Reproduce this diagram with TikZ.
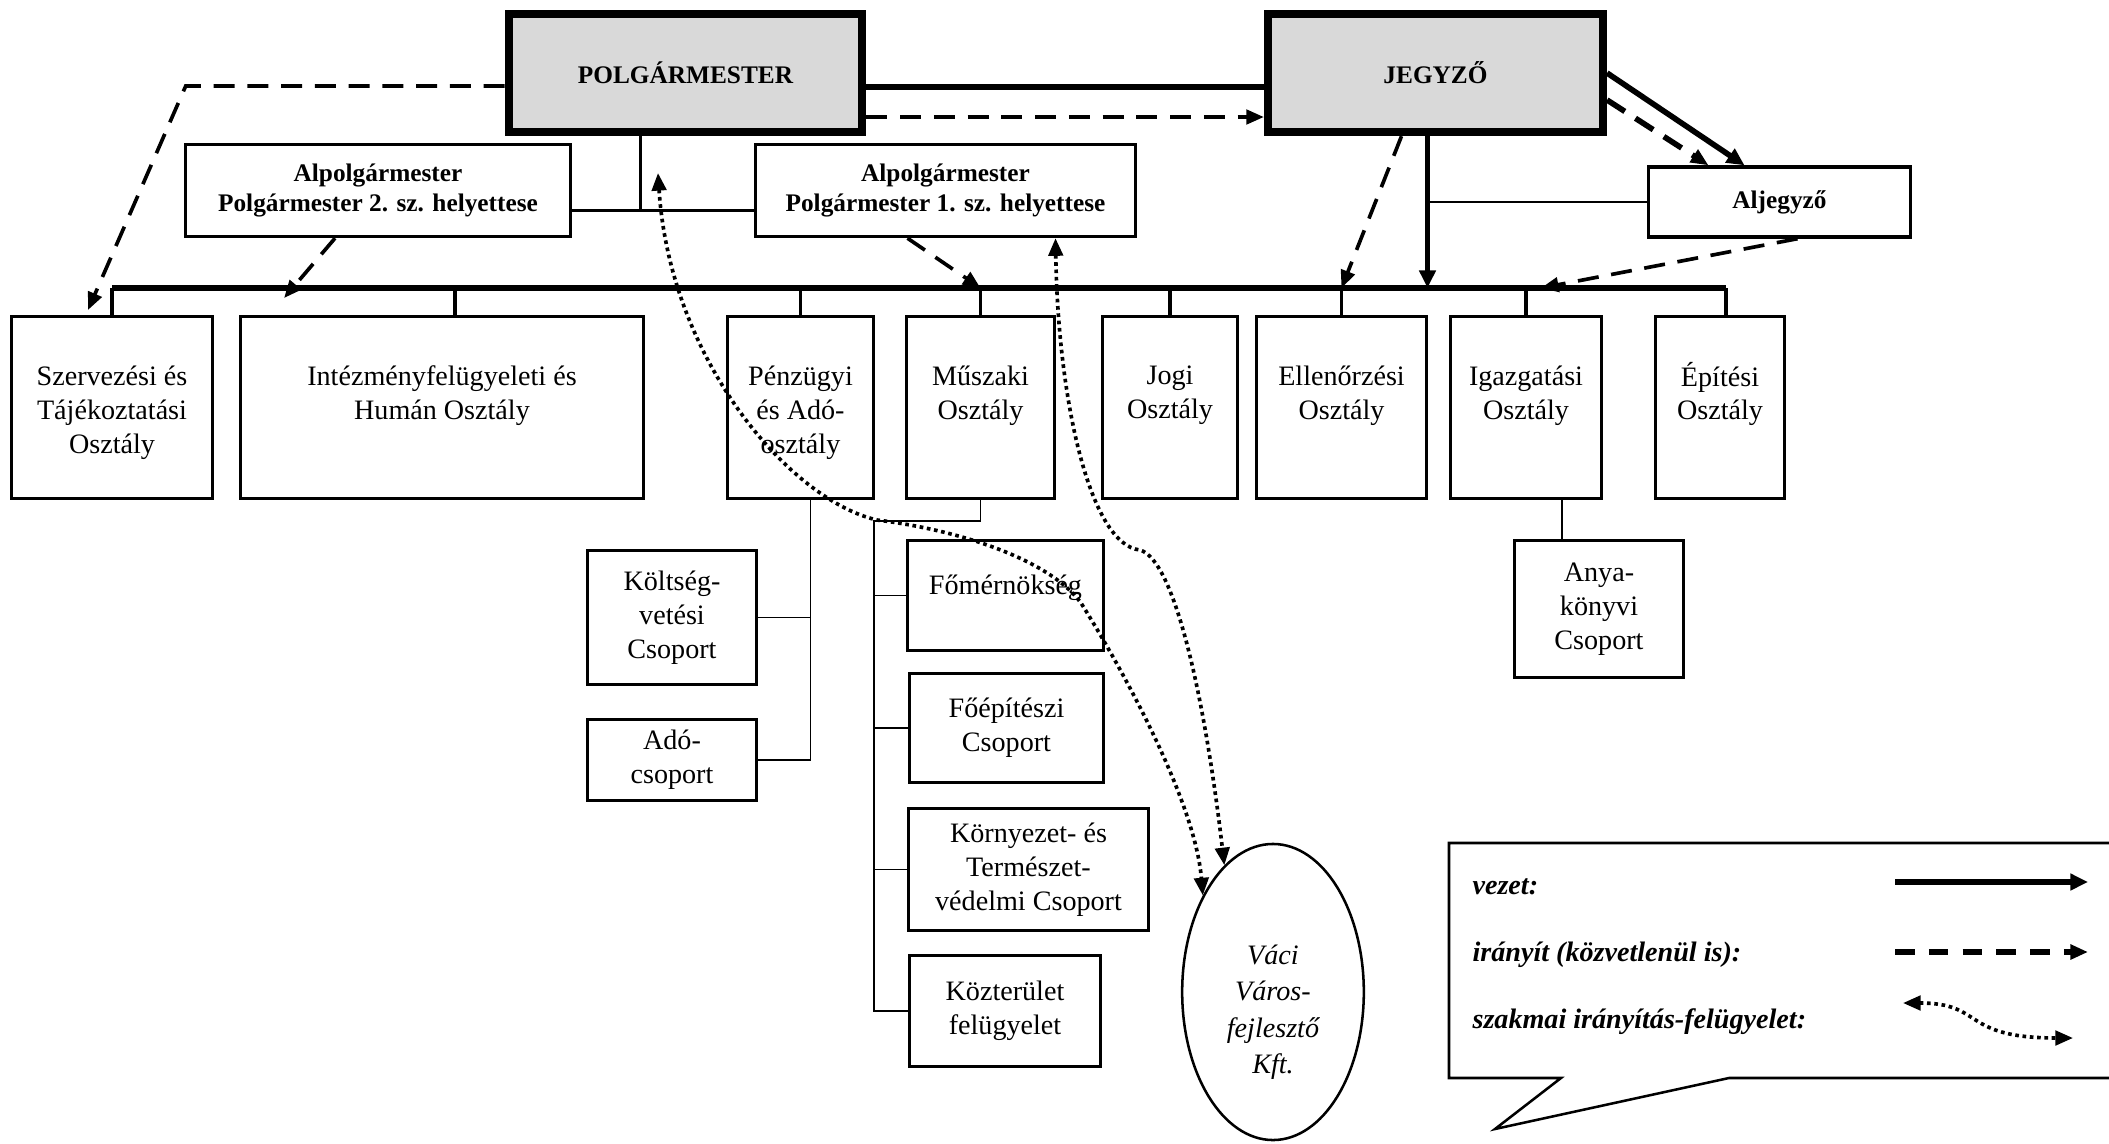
\documentclass[tikz,border=0pt]{standalone}
\usepackage{fontspec}
\setmainfont{Liberation Serif}
\usepackage{tikz}
\usetikzlibrary{shapes.geometric, arrows.meta, positioning, calc}

\begin{document}
\begin{tikzpicture}[
    x=0.0125cm, y=-0.0125cm,
    head/.style={rectangle, draw, line width=2.8pt, fill=black!15, minimum height=1.48cm, font=\small\bfseries},
    deputy/.style={rectangle, draw, line width=1.2pt, align=center, minimum height=1.15cm, font=\small\bfseries},
    dept/.style={rectangle, draw, line width=0.9pt, minimum height=2.28cm},
    depttext/.style={align=center, inner sep=0pt},
    group/.style={rectangle, draw, line width=0.9pt, align=center},
    tree/.style={line width=0.7pt},
    drop/.style={line width=1.2pt},
    bus/.style={line width=1.8pt},
    lead/.style={line width=2pt, -{Triangle[length=2.2mm, width=2mm]}},
    direct/.style={line width=1.3pt, dash pattern=on 7.5pt off 4.5pt, -{Triangle[length=2.2mm, width=1.8mm]}},
    expert/.style={line width=1.3pt, dash pattern=on 1.3pt off 1.3pt, {Triangle[length=2.2mm, width=1.8mm]}-{Triangle[length=2.2mm, width=1.8mm]}},
    legtext/.style={anchor=west, inner sep=0pt, font=\bfseries\itshape}
]
\useasboundingbox (0,0) rectangle (2109,1143);

% vezetes
\node[head, minimum width=4.42cm] (polg) at (685.5,73) {POLGÁRMESTER};
\node[head, minimum width=4.19cm] (jegyzo) at (1435.5,73) {JEGYZŐ};
\node[deputy, minimum width=4.81cm] (alp2) at (378,190.5) {Alpolgármester\\Polgármester 2. sz. helyettese};
\node[deputy, minimum width=4.75cm] (alp1) at (945.5,190.5) {Alpolgármester\\Polgármester 1. sz. helyettese};
\node[deputy, minimum width=3.28cm, minimum height=0.875cm] (aljegyzo) at (1779.5,202) {Aljegyző};

% osztalyok
\node[dept, minimum width=2.51cm] (szerv) at (112,407.5) {};
\node[dept, minimum width=5.04cm] (intezmeny) at (442,407.5) {};
\node[dept, minimum width=1.83cm] (penzugy) at (800.5,407.5) {};
\node[dept, minimum width=1.85cm] (muszaki) at (980.5,407.5) {};
\node[dept, minimum width=1.69cm] (jogi) at (1170,407.5) {};
\node[dept, minimum width=2.13cm] (ellenorzes) at (1341.5,407.5) {};
\node[dept, minimum width=1.89cm] (igazgatas) at (1526,407.5) {};
\node[dept, minimum width=1.61cm] (epites) at (1720,407.5) {};

\node[depttext, below=0.63cm of szerv.north] (szerv-t) {Szervezési és\\Tájékoztatási\\Osztály};
\node[depttext, below=0.63cm of intezmeny.north] (intezmeny-t) {Intézményfelügyeleti és\\Humán Osztály};
\node[depttext, below=0.63cm of penzugy.north] (penzugy-t) {Pénzügyi\\és Adó-\\osztály};
\node[depttext, below=0.63cm of muszaki.north] (muszaki-t) {Műszaki\\Osztály};
\node[depttext, below=0.63cm of jogi.north] (jogi-t) {Jogi\\Osztály};
\node[depttext, below=0.63cm of ellenorzes.north] (ellenorzes-t) {Ellenőrzési\\Osztály};
\node[depttext, below=0.63cm of igazgatas.north] (igazgatas-t) {Igazgatási\\Osztály};
\node[depttext, below=0.58cm of epites.north] (epites-t) {Építési\\Osztály};

% csoportok
\node[group, minimum width=2.11cm, minimum height=1.68cm] (koltseg) at (672,617.5) {Költség-\\vetési\\Csoport};
\node[group, minimum width=2.11cm, minimum height=1.01cm] (ado) at (672,760) {Adó-\\csoport};
\node[group, minimum width=2.45cm, minimum height=1.38cm] (fomern) at (1005.5,595.5) {};
\node[depttext, below=0.44cm of fomern.north] (fomern-t) {Főmérnökség};
\node[group, minimum width=2.43cm, minimum height=1.36cm] (foepit) at (1006.5,728) {Főépítészi\\Csoport};
\node[group, minimum width=3.0cm, minimum height=1.53cm] (kornyezet) at (1028.5,869.5) {Környezet- és\\Természet-\\védelmi Csoport};
\node[group, minimum width=2.39cm, minimum height=1.39cm] (kozter) at (1005,1011) {Közterület\\felügyelet};
\node[group, minimum width=2.11cm, minimum height=1.71cm] (anyak) at (1599,609) {Anya-\\könyvi\\Csoport};
\node[ellipse, draw, line width=0.9pt, minimum width=2.27cm, minimum height=3.7cm] (vaci) at (1273,992) {};
\node[align=center, inner sep=0pt, font=\itshape\linespread{1.08}\selectfont] (vaci-t) at ($(vaci.center)+(0,20)$) {Váci\\Város-\\fejlesztő\\Kft.};

% vonalak
\draw[line width=1.8pt] ($(polg.east)+(0,14)$) -- ($(jegyzo.west)+(0,14)$);
\draw[direct] ($(polg.east)+(0,44)$) -- ($(jegyzo.west)+(0,44)$);
\draw[drop] ($(alp2.east)+(0,20)$) coordinate (alpl) -- ($(alp1.west)+(0,20)$);
\draw[drop] ($(polg.south)+(-45,0)$) coordinate (ptrunk) -- (ptrunk |- alpl);

\coordinate (bus) at (0,288);
\draw[drop] (szerv.north) -- (szerv.north |- bus);
\draw[drop] ($(intezmeny.north)+(13,0)$) coordinate (id) -- (id |- bus);
\draw[drop] (penzugy.north) -- (penzugy.north |- bus);
\draw[drop] (muszaki.north) -- (muszaki.north |- bus);
\draw[drop] (jogi.north) -- (jogi.north |- bus);
\draw[drop] (ellenorzes.north) -- (ellenorzes.north |- bus);
\draw[drop] (igazgatas.north) -- (igazgatas.north |- bus);
\draw[drop] ($(epites.north)+(6,0)$) coordinate (ed) -- (ed |- bus);
\draw[bus] (szerv.north |- bus) -- (ed |- bus);

\draw[lead] ($(jegyzo.south)+(-8,0)$) coordinate (jtrunk) -- (jtrunk |- bus);
\draw[tree] (aljegyzo.west) -- (aljegyzo.west -| jtrunk);
\draw[lead] (jegyzo.east) -- ($(aljegyzo.north)+(-35,0)$);
\draw[direct, line width=2pt] ($(jegyzo.east)+(0,27)$) -- ($(aljegyzo.north)+(-71,0)$);
\draw[direct] ($(jegyzo.south)+(-34,0)$) -- (ellenorzes.north |- bus);
\draw[direct] ($(aljegyzo.south)+(18,0)$) -- ($(igazgatas.north |- bus)+(15,0)$);

\draw[direct] ($(polg.west)+(0,13)$) -- ++(-319,0) -- ($(szerv.north)+(-24,-5)$);
\draw[direct] ($(alp2.south)+(-43,0)$) -- ($(intezmeny.north west)+(45,-17)$);
\draw[direct] ($(alp1.south)+(-38,0)$) -- (muszaki.north |- bus);

\draw[tree] ($(penzugy.south)+(10,0)$) coordinate (pt) |- (ado.east);
\draw[tree] (koltseg.east) -- (koltseg.east -| pt);

\coordinate (mt) at (874,521);
\draw[tree] (muszaki.south) |- (mt) |- (kozter.west);
\draw[tree] (fomern.west) -- (fomern.west -| mt);
\draw[tree] (foepit.west) -- (foepit.west -| mt);
\draw[tree] (kornyezet.west) -- (kornyezet.west -| mt);

\draw[tree] ($(igazgatas.south)+(36,0)$) coordinate (it) -- (it |- anyak.north);

% szakmai iranyitas
\coordinate (ptip) at (658,173);
\draw[expert] (ptip) .. controls (670,360) and (790,500) .. (877,520)
    .. controls (960,530) and (1050,560) .. (1081,603)
    .. controls (1120,665) and (1195,800) .. (vaci.126);
\draw[expert] ($(alp1.south)+(110,0)$) .. controls (1058,400) and (1090,545) .. (1140,550)
    .. controls (1175,560) and (1205,700) .. (vaci.111);

% jelmagyarazat
\draw[line width=0.9pt] (1449,843) -- (2115,843) -- (2115,1078) -- (1729,1078) -- (1495,1129) -- (1561,1078) -- (1449,1078) -- cycle;
\node[legtext] (lvezet) at (1472,887) {vezet:};
\node[legtext] (liranyit) at (1472,955) {irányít (közvetlenül is):};
\node[legtext] (lszakmai) at (1472,1022) {szakmai irányítás-felügyelet:};
\coordinate (l1a) at (1895,882);
\coordinate (l1b) at (2088,882);
\coordinate (l2a) at (1895,952);
\coordinate (l2b) at (2088,952);
\coordinate (l3a) at (1903,1003);
\coordinate (l3b) at (2073,1038);
\draw[lead] (l1a) -- (l1b);
\draw[direct, line width=2pt, dash pattern=on 7pt off 5pt] (l2a) -- (l2b);
\draw[expert] (l3a) .. controls (1985,1003) and (1960,1038) .. (l3b);
\end{tikzpicture}
\end{document}
